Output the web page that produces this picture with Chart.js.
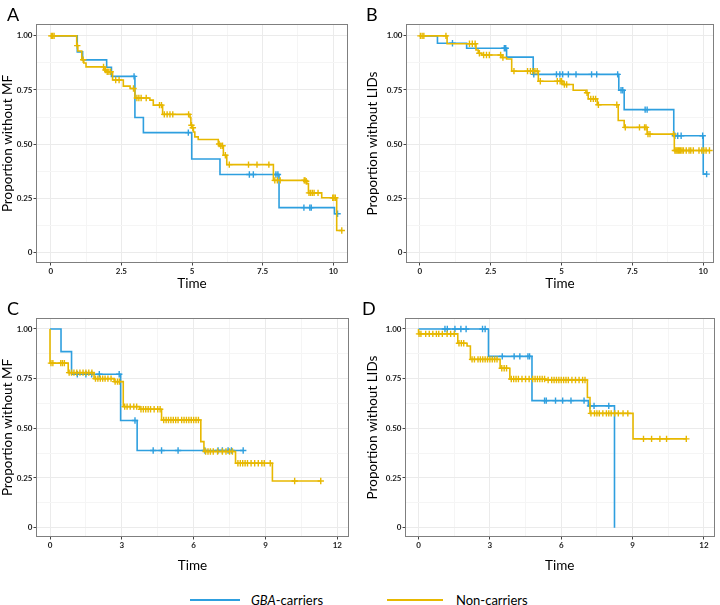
<!DOCTYPE html>
<html lang="en">
<head>
<meta charset="UTF-8">
<title>GBA-carriers vs Non-carriers</title>
<script src="https://cdn.jsdelivr.net/npm/chart.js"></script>
<style>
  * { margin: 0; padding: 0; box-sizing: border-box; }
  body { width: 720px; height: 605px; background: #fff; position: relative; overflow: hidden; font-family: Lato, sans-serif; color: #000; }
  canvas { position: absolute; }
  .tag { position: absolute; font-size: 18px; line-height: 18px; }
  .key-line { position: absolute; height: 2px; }
  .key-text { position: absolute; font-size: 13px; line-height: 14px; }
</style>
</head>
<body>
<canvas id="cA" width="360" height="295" style="left:0;top:0"></canvas>
<canvas id="cB" width="360" height="295" style="left:360px;top:0"></canvas>
<canvas id="cC" width="360" height="290" style="left:0;top:295px"></canvas>
<canvas id="cD" width="360" height="290" style="left:360px;top:295px"></canvas>

<div class="tag" style="left:7px;top:5px">A</div>
<div class="tag" style="left:366px;top:5px">B</div>
<div class="tag" style="left:7px;top:299px">C</div>
<div class="tag" style="left:362px;top:299px">D</div>

<div class="key-line" style="left:190px;top:599px;width:50px;background:#2E9FDF"></div>
<div class="key-text" style="left:251px;top:593px"><i>GBA</i>-carriers</div>
<div class="key-line" style="left:387px;top:599px;width:56px;background:#E7B800"></div>
<div class="key-text" style="left:456px;top:593px">Non-carriers</div>

<script>
  // A: motor fluctuations, B: LIDs (first cohort); C, D: second cohort
  const aGbaTime = [0, 0.94, 1.13, 1.98, 2.15, 2.98, 3.28, 4.99, 5.99, 8.08, 10.04];
  const aGbaSurv = [1, 0.926, 0.889, 0.855, 0.813, 0.623, 0.553, 0.431, 0.359, 0.206, 0.178];
  const aGbaCens = [2.95, 4.87, 7.03, 7.17, 7.97, 8.04, 8.96, 9.17, 9.22, 10.15];
  const aNonTime = [0, 0.92, 0.96, 1.1, 1.17, 1.25, 1.89, 1.96, 2.19, 2.57, 2.81, 2.95, 2.98, 3.51, 3.63, 3.96, 4.93, 4.96, 5.0, 5.05, 5.1, 5.22, 5.93, 5.99, 6.11, 6.23, 7.88, 9.01, 9.06, 9.12, 9.59, 10.12];
  const aNonSurv = [1, 0.955, 0.93, 0.89, 0.875, 0.857, 0.842, 0.834, 0.796, 0.768, 0.757, 0.75, 0.713, 0.703, 0.68, 0.637, 0.623, 0.587, 0.575, 0.556, 0.533, 0.521, 0.5, 0.492, 0.448, 0.405, 0.332, 0.328, 0.317, 0.274, 0.252, 0.1];
  const aNonCens = [0.02, 0.07, 0.12, 0.94, 1.15, 1.87, 1.94, 2.0, 2.06, 2.12, 2.3, 2.42, 2.93, 3.05, 3.12, 3.2, 3.38, 3.85, 3.92, 4.02, 4.12, 4.22, 4.32, 4.88, 4.98, 5.03, 5.96, 6.02, 6.08, 6.18, 6.32, 7.0, 7.3, 7.72, 7.93, 8.02, 8.12, 8.97, 9.0, 9.04, 9.14, 9.2, 9.26, 9.32, 9.46, 9.98, 10.02, 10.07, 10.3];

  const bGbaTime = [0, 0.62, 1.65, 3.06, 4.0, 7.02, 7.21, 8.96, 10.0];
  const bGbaSurv = [1, 0.966, 0.943, 0.902, 0.822, 0.749, 0.659, 0.538, 0.361];
  const bGbaCens = [1.15, 2.98, 3.03, 4.02, 4.82, 4.94, 5.04, 5.24, 5.51, 6.06, 6.24, 6.98, 7.1, 7.16, 7.95, 8.02, 9.0, 9.1, 9.22, 9.98, 10.12];
  const bNonTime = [0, 0.96, 1.98, 2.06, 2.18, 2.9, 3.06, 3.24, 4.18, 5.05, 5.41, 5.86, 5.94, 6.26, 7.0, 7.21, 8.02, 8.98];
  const bNonSurv = [1, 0.964, 0.935, 0.92, 0.912, 0.9, 0.893, 0.837, 0.79, 0.775, 0.749, 0.737, 0.709, 0.682, 0.609, 0.577, 0.546, 0.47];
  const bNonCens = [0.02, 0.08, 0.14, 0.92, 1.75, 1.85, 1.95, 2.1, 2.25, 2.35, 2.45, 2.85, 2.93, 3.32, 3.8, 3.9, 3.98, 4.06, 4.14, 4.25, 4.85, 4.95, 5.0, 5.1, 5.18, 5.9, 6.03, 6.12, 6.2, 6.3, 6.95, 7.25, 7.75, 7.93, 7.98, 8.05, 8.12, 8.95, 9.0, 9.04, 9.08, 9.12, 9.16, 9.2, 9.25, 9.3, 9.4, 9.5, 9.56, 9.65, 9.85, 9.95, 10.02, 10.1, 10.22];

  const cGbaTime = [0, 0.46, 0.9, 2.95, 3.64];
  const cGbaSurv = [1, 0.886, 0.772, 0.539, 0.388];
  const cGbaCens = [1.14, 1.5, 1.74, 2.06, 2.89, 3.55, 4.31, 4.66, 5.35, 6.47, 7.02, 7.2, 7.44, 7.58, 8.07];
  const cNonTime = [0, 0, 0.76, 1.84, 2.68, 3.06, 3.75, 4.66, 6.3, 6.43, 7.75, 9.29];
  const cNonSurv = [1, 0.828, 0.78, 0.75, 0.735, 0.609, 0.596, 0.542, 0.433, 0.383, 0.324, 0.235];
  const cNonCens = [0.04, 0.12, 0.45, 0.52, 0.6, 0.8, 0.9, 1.0, 1.12, 1.25, 1.38, 1.5, 1.62, 1.75, 1.9, 2.0, 2.1, 2.2, 2.3, 2.42, 2.55, 2.72, 2.82, 2.9, 3.12, 3.22, 3.35, 3.5, 3.62, 3.8, 3.9, 4.0, 4.1, 4.2, 4.35, 4.5, 4.6, 4.75, 4.85, 4.95, 5.05, 5.15, 5.25, 5.35, 5.5, 5.6, 5.7, 5.8, 5.9, 6.0, 6.1, 6.2, 6.5, 6.6, 6.7, 6.82, 7.0, 7.2, 7.35, 7.5, 7.62, 7.85, 7.95, 8.05, 8.15, 8.25, 8.4, 8.55, 8.7, 8.85, 8.95, 9.2, 10.22, 11.31];

  const dGbaTime = [0, 2.94, 4.77, 7.14, 8.24];
  const dGbaSurv = [1, 0.862, 0.639, 0.613, 0];
  const dGbaCens = [1.11, 1.21, 1.53, 1.78, 2.0, 2.69, 2.8, 3.52, 4.02, 4.26, 4.6, 4.67, 5.3, 5.37, 5.76, 6.06, 6.41, 6.96, 7.21, 7.38, 8.0];
  const dNonTime = [0, 0, 1.65, 2.04, 2.18, 3.43, 3.84, 5.34, 7.1, 7.21, 9.02];
  const dNonSurv = [1, 0.975, 0.928, 0.914, 0.847, 0.802, 0.748, 0.743, 0.655, 0.575, 0.447];
  const dNonCens = [0.02, 0.1, 0.3, 0.45, 0.6, 0.75, 0.85, 1.0, 1.2, 1.35, 1.5, 1.7, 1.8, 1.9, 2.25, 2.35, 2.5, 2.6, 2.7, 2.8, 2.9, 3.0, 3.1, 3.2, 3.3, 3.5, 3.6, 3.7, 3.9, 4.0, 4.1, 4.2, 4.35, 4.5, 4.65, 4.8, 4.9, 5.0, 5.1, 5.2, 5.3, 5.45, 5.6, 5.7, 5.8, 5.9, 6.0, 6.1, 6.2, 6.3, 6.45, 6.6, 6.75, 6.9, 7.0, 7.25, 7.4, 7.5, 7.6, 7.75, 7.9, 8.0, 8.1, 8.25, 8.4, 8.6, 8.8, 9.46, 9.8, 10.15, 10.43, 11.26];

  const xTicksTop = [0, 2.5, 5, 7.5, 10];
  const xLabelsTop = ["0", "2.5", "5", "7.5", "10"];
  const xTicksBottom = [0, 3, 6, 9, 12];
  const xLabelsBottom = ["0", "3", "6", "9", "12"];
  const yTicks = [0, 0.25, 0.5, 0.75, 1];
  const yLabels = ["0", "0.25", "0.50", "0.75", "1.00"];

  const BLUE = "#2E9FDF";
  const YELLOW = "#E7B800";
  const FONT = "Lato, sans-serif";

  // step curve, extended to the last censored time
  function curve(times, surv, cens) {
    const pts = times.map((t, i) => ({ x: t, y: surv[i] }));
    const end = Math.max(...cens);
    if (end > times[times.length - 1]) pts.push({ x: end, y: surv[surv.length - 1] });
    return pts;
  }

  // censor marks sit on the curve
  function marks(times, surv, cens) {
    return cens.map((c) => {
      let s = surv[0];
      times.forEach((t, i) => { if (t <= c) s = surv[i]; });
      return { x: c, y: s };
    });
  }

  // majors plus the ggplot-style minor lines between them
  function withMinor(majors) {
    const out = [];
    majors.forEach((v, i) => {
      out.push({ value: v, minor: false });
      if (i < majors.length - 1) out.push({ value: (v + majors[i + 1]) / 2, minor: true });
    });
    return out;
  }

  const frame = {
    id: "frame",
    afterDatasetsDraw(chart) {
      const { ctx, chartArea: a } = chart;
      ctx.save();
      ctx.strokeStyle = "#7f7f7f";
      ctx.lineWidth = 1;
      ctx.strokeRect(Math.round(a.left) + 0.5, Math.round(a.top) + 0.5,
        Math.round(a.right - a.left) - 1, Math.round(a.bottom - a.top) - 1);
      ctx.restore();
    },
  };

  const gridColor = (c) => (c.tick && c.tick.minor ? "#f5f5f5" : "#ebebeb");
  const tickColor = (c) => (c.tick && c.tick.minor ? "rgba(0,0,0,0)" : "#444");

  function makePanel(id, p) {
    const lineSet = (data, color, order) => ({
      data, borderColor: color, backgroundColor: color, stepped: true,
      borderWidth: 1.6, pointRadius: 0, fill: false, order,
    });
    const markSet = (data, color, order) => ({
      data, borderColor: color, backgroundColor: color, showLine: false,
      pointStyle: "cross", pointRadius: 3.2, pointBorderWidth: 1.4, order,
    });

    new Chart(document.getElementById(id), {
      type: "line",
      data: {
        datasets: [
          lineSet(curve(p.gba[0], p.gba[1], p.gba[2]), BLUE, 1),
          markSet(marks(p.gba[0], p.gba[1], p.gba[2]), BLUE, 1),
          lineSet(curve(p.non[0], p.non[1], p.non[2]), YELLOW, 0),
          markSet(marks(p.non[0], p.non[1], p.non[2]), YELLOW, 0),
        ],
      },
      options: {
        responsive: false,
        animation: false,
        events: [],
        layout: { padding: { top: p.area.t, right: p.w - p.area.r, left: 0, bottom: 0 } },
        plugins: { legend: { display: false }, tooltip: { enabled: false } },
        scales: {
          x: {
            type: "linear",
            min: p.xMin,
            max: p.xMax,
            afterBuildTicks: (s) => { s.ticks = withMinor(p.xTicks); },
            afterFit: (s) => { s.height = p.h - p.area.b; },
            ticks: {
              autoSkip: false, maxRotation: 0, padding: 1, color: "#1a1a1a",
              font: { family: FONT, size: 8, weight: "bold" },
              callback: (v) => { const i = p.xTicks.indexOf(v); return i < 0 ? "" : p.xLabels[i]; },
            },
            grid: { color: gridColor, tickColor, tickLength: 2.5, lineWidth: 1 },
            border: { display: false },
            title: {
              display: true, text: "Time", color: "#000",
              font: { family: FONT, size: 13.5 }, padding: { top: 0, bottom: p.xTitlePad },
            },
          },
          y: {
            type: "linear",
            min: p.yMin,
            max: p.yMax,
            afterBuildTicks: (s) => { s.ticks = withMinor(yTicks); },
            afterFit: (s) => { s.width = p.area.l; },
            ticks: {
              autoSkip: false, padding: 1, color: "#1a1a1a",
              font: { family: FONT, size: 8, weight: "bold" },
              callback: (v) => { const i = yTicks.indexOf(v); return i < 0 ? "" : yLabels[i]; },
            },
            grid: { color: gridColor, tickColor, tickLength: 2.5, lineWidth: 1 },
            border: { display: false },
            title: {
              display: true, text: p.yTitle, color: "#000",
              font: { family: FONT, size: 13.5 }, padding: { top: p.yTitlePad, bottom: 0 },
            },
          },
        },
      },
      plugins: [frame],
    });
  }

  makePanel("cA", {
    w: 360, h: 295, area: { l: 36, t: 24, r: 348, b: 263 },
    xMin: -0.52, xMax: 10.52, yMin: -0.05, yMax: 1.055,
    xTicks: xTicksTop, xLabels: xLabelsTop, xTitlePad: 3.6, yTitlePad: 0,
    yTitle: "Proportion without MF",
    gba: [aGbaTime, aGbaSurv, aGbaCens], non: [aNonTime, aNonSurv, aNonCens],
  });
  makePanel("cB", {
    w: 360, h: 295, area: { l: 46, t: 24, r: 354, b: 263 },
    xMin: -0.49, xMax: 10.38, yMin: -0.05, yMax: 1.055,
    xTicks: xTicksTop, xLabels: xLabelsTop, xTitlePad: 3.6, yTitlePad: 4.9,
    yTitle: "Proportion without LIDs",
    gba: [bGbaTime, bGbaSurv, bGbaCens], non: [bNonTime, bNonSurv, bNonCens],
  });
  makePanel("cC", {
    w: 360, h: 290, area: { l: 36, t: 23, r: 349, b: 242 },
    xMin: -0.585, xMax: 12.49, yMin: -0.047, yMax: 1.055,
    xTicks: xTicksBottom, xLabels: xLabelsBottom, xTitlePad: 11.6, yTitlePad: 0,
    yTitle: "Proportion without MF",
    gba: [cGbaTime, cGbaSurv, cGbaCens], non: [cNonTime, cNonSurv, cNonCens],
  });
  makePanel("cD", {
    w: 360, h: 290, area: { l: 45, t: 23, r: 358, b: 242 },
    xMin: -0.57, xMax: 12.45, yMin: -0.047, yMax: 1.055,
    xTicks: xTicksBottom, xLabels: xLabelsBottom, xTitlePad: 11.6, yTitlePad: 4.9,
    yTitle: "Proportion without LIDs",
    gba: [dGbaTime, dGbaSurv, dGbaCens], non: [dNonTime, dNonSurv, dNonCens],
  });
</script>
</body>
</html>
